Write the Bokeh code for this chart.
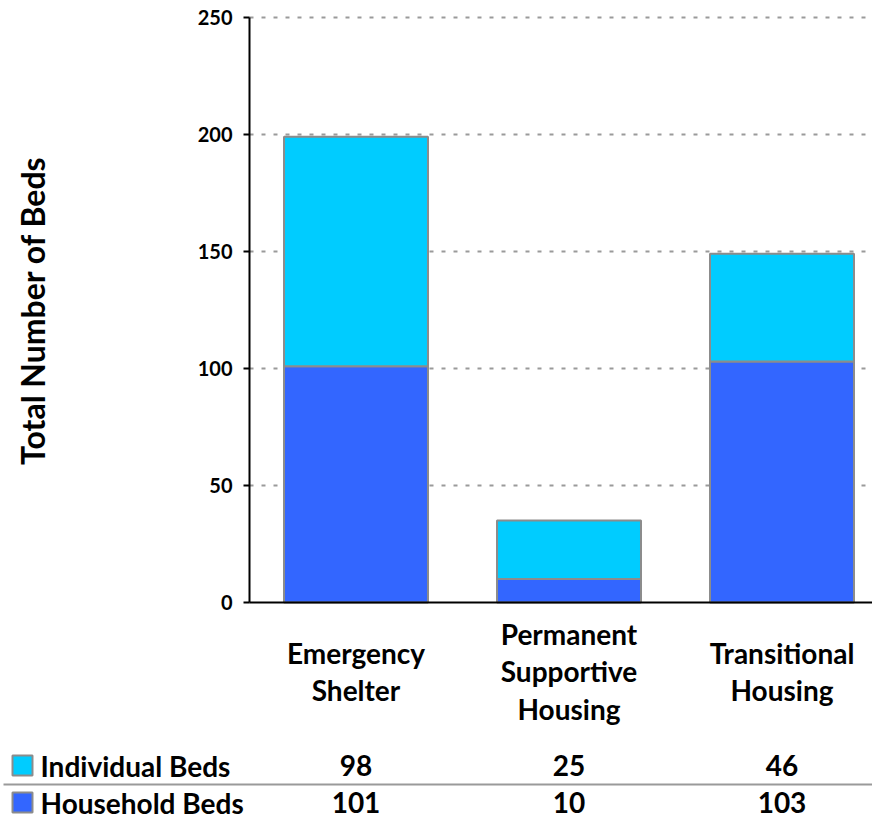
import math
from bokeh.plotting import figure
from bokeh.models import LinearAxis, FixedTicker, Range1d
from bokeh.core.properties import value
from bokeh.embed import file_html
from bokeh.resources import INLINE

# ---- data ----
categories = ["Emergency\nShelter", "Permanent\nSupportive\nHousing", "Transitional\nHousing"]
series_names = ["Individual Beds", "Household Beds"]
individual_beds = [98, 25, 46]
household_beds = [101, 10, 103]
y_ticks = [0, 50, 100, 150, 200, 250]

# ---- layout helpers (reference pixel -> data) ----
W, H = 872, 820
CAT_PX = 213.0
PX_PER_UNIT = 2.34
FRAME_LEFT = 249.0
BASE_Y = 602.0
x_start = -0.5 - FRAME_LEFT / CAT_PX
x_end = x_start + W / CAT_PX
y_end = BASE_Y / PX_PER_UNIT
y_start = -(H - BASE_Y) / PX_PER_UNIT

def X(px):
    return x_start + px / CAT_PX

def Y(py):
    return (BASE_Y - py) / PX_PER_UNIT

FONT = value("Lato")
CYAN = "#00CCFF"
BLUE = "#3366FF"
EDGE = "#8C8C8C"

p = figure(width=W, height=H, output_backend="svg", toolbar_location=None,
           x_range=Range1d(x_start, x_end), y_range=Range1d(y_start, y_end),
           x_axis_type=None, y_axis_type=None, min_border=0)
p.outline_line_color = None
p.background_fill_color = "white"
p.border_fill_color = "white"

xs = list(range(len(categories)))

# grid lines
grid_vals = [t for t in y_ticks if t > 0]
p.segment(x0=[-0.5] * len(grid_vals), x1=[x_end] * len(grid_vals), y0=grid_vals, y1=grid_vals,
          line_color="#9A9A9A", line_width=2, line_dash="4 8")

# bars (stacked)
tops_house = household_beds
tops_ind = [h + i for h, i in zip(household_beds, individual_beds)]
p.vbar(x=xs, width=0.676, bottom=0, top=tops_house, fill_color=BLUE,
       line_color=EDGE, line_width=2)
p.vbar(x=xs, width=0.676, bottom=tops_house, top=tops_ind, fill_color=CYAN,
       line_color=EDGE, line_width=2)

# y axis
yax = LinearAxis(fixed_location=-0.5, bounds=(0, 250), ticker=FixedTicker(ticks=y_ticks))
yax.axis_line_color = "black"
yax.axis_line_width = 2
yax.major_tick_line_color = "black"
yax.major_tick_line_width = 2
yax.major_tick_out = 6
yax.major_tick_in = 0
yax.minor_tick_line_color = None
yax.major_label_standoff = 11
yax.major_label_text_font = "Lato"
yax.major_label_text_font_style = "bold"
yax.major_label_text_font_size = "20px"
yax.major_label_text_color = "black"
p.add_layout(yax, "left")

# x baseline axis
xax = LinearAxis(fixed_location=0, bounds=(-0.5, x_end), ticker=FixedTicker(ticks=[]))
xax.axis_line_color = "black"
xax.axis_line_width = 2
xax.major_tick_line_color = None
xax.minor_tick_line_color = None
xax.major_label_text_alpha = 0
p.add_layout(xax, "below")

# category labels
p.text(x=xs, y=[Y(671)] * 3, text=categories, text_font=FONT, text_font_style="bold",
       text_font_size="28px", text_align="center", text_baseline="middle",
       text_line_height=1.1, text_color="black")

# y title
p.text(x=[X(32)], y=[Y(310)], text=["Total Number of Beds"], angle=math.pi / 2,
       text_font=FONT, text_font_style="bold", text_font_size="32px",
       text_align="center", text_baseline="middle", text_color="black")

# table
row_y = [Y(765), Y(802)]
colors = [CYAN, BLUE]
rows = [individual_beds, household_beds]
for name, col, vals, ry in zip(series_names, colors, rows, row_y):
    p.scatter(x=[X(22)], y=[ry], marker="square", size=20, fill_color=col,
              line_color=EDGE, line_width=2)
    p.text(x=[X(40)], y=[ry], text=[name], text_font=FONT, text_font_style="bold",
           text_font_size="28px", text_align="left", text_baseline="middle", text_color="black")
    p.text(x=xs, y=[ry] * 3, text=[str(v) for v in vals], text_font=FONT, text_font_style="bold",
           text_font_size="28px", text_align="center", text_baseline="middle", text_color="black")

p.segment(x0=[X(3)], x1=[x_end], y0=[Y(784)], y1=[Y(784)], line_color="#9A9A9A", line_width=2)

open("out.html", "w").write(file_html(p, INLINE))
